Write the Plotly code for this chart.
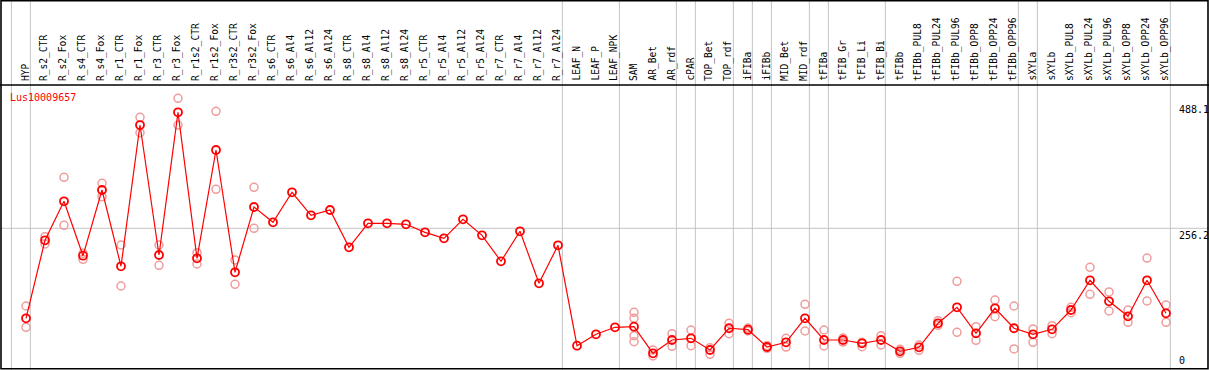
import plotly.graph_objects as go

categories = [
    "HYP",
    "R_s2_CTR", "R_s2_Fox", "R_s4_CTR", "R_s4_Fox", "R_r1_CTR", "R_r1_Fox",
    "R_r3_CTR", "R_r3_Fox", "R_r1s2_CTR", "R_r1s2_Fox", "R_r3s2_CTR", "R_r3s2_Fox",
    "R_s6_CTR", "R_s6_Al4", "R_s6_Al12", "R_s6_Al24",
    "R_s8_CTR", "R_s8_Al4", "R_s8_Al12", "R_s8_Al24",
    "R_r5_CTR", "R_r5_Al4", "R_r5_Al12", "R_r5_Al24",
    "R_r7_CTR", "R_r7_Al4", "R_r7_Al12", "R_r7_Al24",
    "LEAF_N", "LEAF_P", "LEAF_NPK",
    "SAM", "AR_Bet", "AR_rdf",
    "cPAR",
    "TOP_Bet", "TOP_rdf",
    "iFIBa",
    "iFIBb",
    "MID_Bet", "MID_rdf",
    "tFIBa",
    "tFIB_Gr", "tFIB_Li", "tFIB_Bi",
    "tFIBb", "tFIBb_PUL8", "tFIBb_PUL24", "tFIBb_PUL96", "tFIBb_OPP8", "tFIBb_OPP24", "tFIBb_OPP96",
    "sXYLa",
    "sXYLb", "sXYLb_PUL8", "sXYLb_PUL24", "sXYLb_PUL96", "sXYLb_OPP8", "sXYLb_OPP24", "sXYLb_OPP96",
]

# number of samples in each separated group (left to right)
group_sizes = [1, 28, 3, 3, 1, 2, 1, 1, 2, 1, 3, 7, 1, 7]

mean_values = [
    90.6,
    234.1, 305.9, 205.8, 326.7, 186.3, 446.3,
    207.1, 469.7, 201.0, 400.3, 175.2, 295.4,
    267.3, 322.5, 280.1, 289.9,
    221.2, 265.4, 265.4, 263.6,
    248.8, 237.8, 272.8, 243.3,
    195.5, 250.7, 155.0, 224.9,
    40.1, 61.1, 74.0,
    75.1, 26.1, 50.6,
    53.7,
    32.2, 72.2,
    69.6,
    37.7,
    46.4, 90.6,
    50.6,
    50.6, 44.5, 50.6,
    29.8, 37.2, 81.4, 110.8, 62.9, 109.0, 72.2,
    61.1,
    70.3, 105.8, 160.5, 121.8, 94.2, 160.5, 99.8,
]

N = None
rep_1 = [
    113.2,
    240.7, 350.1, 210.2, 339.0, 225.5, 460.5,
    225.5, 495.5, 211.3, 471.6, 197.9, 331.7,
    N, N, N, N,
    N, N, N, N,
    N, N, N, N,
    N, N, N, N,
    N, N, N,
    101.6, 32.2, 62.2,
    69.0,
    36.4, 81.4,
    72.7,
    40.1,
    53.7, 116.3,
    69.0,
    54.3, 46.4, 58.5,
    33.5, 41.4, 86.1, 158.7, 75.1, 124.2, 113.2,
    70.9,
    76.9, 110.8, 184.4, 139.0, 105.8, 201.5, 115.0,
]
rep_2 = [
    74.0,
    227.3, 261.7, 199.2, 314.4, 150.0, 432.2,
    188.1, 446.3, 190.5, 328.0, 153.1, 256.2,
    N, N, N, N,
    N, N, N, N,
    N, N, N, N,
    N, N, N, N,
    N, N, N,
    90.6, 21.2, 39.0,
    40.1,
    24.3, 62.2,
    67.2,
    35.3,
    37.7, 67.2,
    39.6,
    46.9, 38.3, 41.4,
    26.1, 31.7, 77.7, 64.8, 50.1, 93.5, 34.1,
    46.4,
    62.2, 100.9, 134.7, 104.0, 83.2, 122.4, 83.2,
]
# extra replicates (only SAM has more than two)
rep_3 = {"SAM": [58.5, 47.5]}

gene_label = "Lus10009657"
scale_ticks = [488.1, 256.2, 0]
scale_tick_text = ["488.1", "256.2", "0"]

W, H = 1209, 370
X0_PX, DX_PX = 26.0, 19.0   # pixel position of first category and spacing
Y0_PX, DY_PX = 367.5, 0.5433  # pixel position of value 0 and px per unit

x_idx = list(range(len(categories)))
xr = [(0 - X0_PX) / DX_PX, (W - X0_PX) / DX_PX]
yr = [-(H - Y0_PX) / DY_PX, Y0_PX / DY_PX]

def py(px):
    return 1 - px / H

fig = go.Figure()

pale = "#ef9c9c"
rx, ry = [], []
for i, c in enumerate(categories):
    for v in (rep_1[i], rep_2[i]):
        if v is not None:
            rx.append(i); ry.append(v)
    for v in rep_3.get(c, []):
        rx.append(i); ry.append(v)

fig.add_trace(go.Scatter(
    x=rx, y=ry, mode="markers",
    marker=dict(symbol="circle-open", size=8, color=pale, line=dict(width=1.5, color=pale)),
    showlegend=False, hoverinfo="skip",
))
fig.add_trace(go.Scatter(
    x=x_idx, y=mean_values, mode="lines+markers",
    line=dict(color="#ff0000", width=1.2),
    marker=dict(symbol="circle-open", size=8, color="#ff0000", line=dict(width=1.8, color="#ff0000")),
    showlegend=False,
))

shapes = []
# group separators
pos = -1
bounds = [pos]
for g in group_sizes:
    pos += g
    bounds.append(pos)
for b in bounds:
    shapes.append(dict(type="line", xref="x", yref="paper", x0=b + 0.23, x1=b + 0.23,
                       y0=0, y1=1, line=dict(color="#c4c4c4", width=1), layer="below"))
# horizontal reference line at middle tick
shapes.append(dict(type="line", xref="paper", yref="y", x0=0, x1=1, y0=scale_ticks[1], y1=scale_ticks[1],
                   line=dict(color="#c4c4c4", width=1), layer="below"))
# header separator line
shapes.append(dict(type="line", xref="paper", yref="paper", x0=0, x1=1, y0=py(85), y1=py(85),
                   line=dict(color="black", width=1.5)))
# border
shapes.append(dict(type="rect", xref="paper", yref="paper", x0=1 / W, x1=1 - 1 / W,
                   y0=py(368.8), y1=py(0.8), line=dict(color="black", width=1.6)))

annotations = []
mono = "DejaVu Sans Mono"
for i, c in enumerate(categories):
    annotations.append(dict(x=i - 0.05, xref="x", y=py(83), yref="paper", text=c, showarrow=False,
                            textangle=-90, xanchor="center", yanchor="bottom",
                            font=dict(family=mono, size=9.6, color="black")))
annotations.append(dict(x=8 / W, xref="paper", y=py(90), yref="paper", text=gene_label, showarrow=False,
                        xanchor="left", yanchor="top", font=dict(family=mono, size=10, color="#ff0000")))
for v, t in zip(scale_ticks, scale_tick_text):
    annotations.append(dict(x=1177 / W, xref="paper", y=v, yref="y", text=t, showarrow=False,
                            xanchor="left", yanchor="top" if v > 0 else "bottom",
                            font=dict(family=mono, size=10, color="black")))

fig.update_layout(
    width=W, height=H, autosize=False,
    margin=dict(l=0, r=0, t=0, b=0, pad=0),
    paper_bgcolor="white", plot_bgcolor="white",
    xaxis=dict(range=xr, visible=False, fixedrange=True),
    yaxis=dict(range=yr, visible=False, fixedrange=True),
    shapes=shapes, annotations=annotations,
    showlegend=False,
)

fig.write_html(
    "out.html",
    config={"displayModeBar": False},
    post_script="document.body.style.margin='0';document.body.style.padding='0';document.body.style.overflow='hidden';",
)
